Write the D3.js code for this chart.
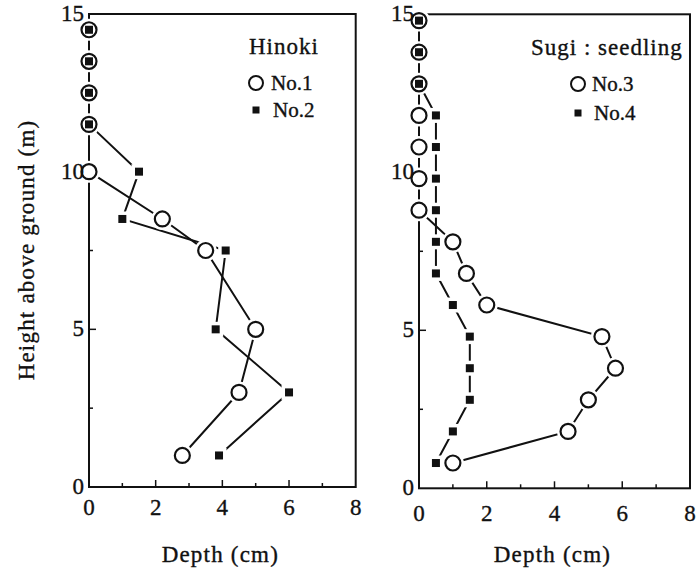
<!DOCTYPE html>
<html>
<head>
<meta charset="utf-8">
<script src="https://cdn.jsdelivr.net/npm/d3@7"></script>
<style>
  body { margin: 0; background: #fff; }
  svg { display: block; }
  text { stroke: #111; stroke-width: 0.35px; }
</style>
</head>
<body>
<div id="chart"></div>
<script>
// Hinoki (left panel)
const hinokiHeights = [14.5, 13.5, 12.5, 11.5, 10, 8.5, 7.5, 5, 3, 1];
const no1Depth = [0, 0, 0, 0, 0, 2.2, 3.5, 5, 4.5, 2.8];
const no2Depth = [0, 0, 0, 0, 1.5, 1, 4.1, 3.8, 6, 3.9];

// Sugi seedling (right panel)
const sugiHeights = [14.8, 13.8, 12.8, 11.8, 10.8, 9.8, 8.8, 7.8, 6.8, 5.8, 4.8, 3.8, 2.8, 1.8, 0.8];
const no3Depth = [0, 0, 0, 0, 0, 0, 0, 1, 1.4, 2, 5.4, 5.8, 5, 4.4, 1];
const no4Depth = [0, 0, 0, 0.5, 0.5, 0.5, 0.5, 0.5, 0.5, 1, 1.5, 1.5, 1.5, 1, 0.5];

const xTicks = [0, 2, 4, 6, 8];
const yTicks = [0, 5, 10, 15];

const serif = "'Liberation Serif', 'Times New Roman', Times, serif";

const svg = d3.select("#chart").append("svg")
  .attr("width", 700)
  .attr("height", 574)
  .attr("font-family", serif);

svg.append("rect").attr("width", 700).attr("height", 574).attr("fill", "#fff");

// y axis title, shared
svg.append("text")
  .attr("transform", "translate(34,250) rotate(-90)")
  .attr("text-anchor", "middle")
  .attr("font-family", serif)
  .attr("font-size", 23)
  .attr("letter-spacing", 1.2)
  .attr("fill", "#111")
  .text("Height above ground (m)");

const panels = [
  {
    left: 89, right: 355.7, top: 14, bottom: 487, labelDy: 28,
    heights: hinokiHeights, circle: no1Depth, square: no2Depth,
    title: "Hinoki", titleX: 249, titleY: 54,
    names: ["No.1", "No.2"], legX: 256, legTextX: 271, legY: [83, 110]
  },
  {
    left: 419, right: 690, top: 14.3, bottom: 488.3, labelDy: 33,
    heights: sugiHeights, circle: no3Depth, square: no4Depth,
    title: "Sugi : seedling", titleX: 531, titleY: 55,
    names: ["No.3", "No.4"], legX: 578, legTextX: 592, legY: [84, 113]
  }
];

panels.forEach(p => {
  const x = d3.scaleLinear().domain([0, 8]).range([p.left, p.right]);
  const y = d3.scaleLinear().domain([0, 15]).range([p.bottom, p.top]);
  const g = svg.append("g");

  // frame
  g.append("rect")
    .attr("x", p.left).attr("y", p.top)
    .attr("width", p.right - p.left).attr("height", p.bottom - p.top)
    .attr("fill", "none").attr("stroke", "#111").attr("stroke-width", 2);

  // inward ticks
  d3.range(1, 8).forEach(v => {
    g.append("line")
      .attr("x1", x(v)).attr("x2", x(v))
      .attr("y1", p.bottom).attr("y2", p.bottom - (v % 2 === 0 ? 7 : 4))
      .attr("stroke", "#111").attr("stroke-width", 1.5);
  });
  [2.5, 5, 7.5, 10, 12.5].forEach(v => {
    g.append("line")
      .attr("x1", p.left).attr("x2", p.left + (v % 5 === 0 ? 7 : 4))
      .attr("y1", y(v)).attr("y2", y(v))
      .attr("stroke", "#111").attr("stroke-width", 1.5);
  });

  const circ = p.heights.map((h, i) => [p.circle[i], h]);
  const sq = p.heights.map((h, i) => [p.square[i], h]);
  const line = d3.line().x(d => x(d[0])).y(d => y(d[1]));

  [circ, sq].forEach(pts => {
    g.append("path").datum(pts)
      .attr("d", line)
      .attr("fill", "none").attr("stroke", "#111").attr("stroke-width", 2);
  });

  // white halos so lines stop short of the markers
  g.selectAll(".ch").data(circ).enter().append("circle")
    .attr("cx", d => x(d[0])).attr("cy", d => y(d[1])).attr("r", 11)
    .attr("fill", "#fff");
  g.selectAll(".sh").data(sq).enter().append("rect")
    .attr("x", d => x(d[0]) - 7.5).attr("y", d => y(d[1]) - 7.5)
    .attr("width", 15).attr("height", 15)
    .attr("fill", "#fff");

  g.selectAll(".cm").data(circ).enter().append("circle")
    .attr("cx", d => x(d[0])).attr("cy", d => y(d[1])).attr("r", 7.5)
    .attr("fill", "#fff").attr("stroke", "#111").attr("stroke-width", 2.2);
  g.selectAll(".sm").data(sq).enter().append("rect")
    .attr("x", d => x(d[0]) - 4).attr("y", d => y(d[1]) - 4)
    .attr("width", 8).attr("height", 8)
    .attr("fill", "#111");

  // tick labels (on top of the markers)
  g.selectAll(".xl").data(xTicks).enter().append("text")
    .attr("x", d => x(d)).attr("y", p.bottom + p.labelDy)
    .attr("text-anchor", "middle")
    .attr("font-family", serif).attr("font-size", 23).attr("fill", "#111")
    .text(d => d);
  g.selectAll(".yl").data(yTicks).enter().append("text")
    .attr("x", p.left - 5).attr("y", d => y(d) + 7)
    .attr("text-anchor", "end")
    .attr("font-family", serif).attr("font-size", 23).attr("fill", "#111")
    .text(d => d);

  // x axis title
  g.append("text")
    .attr("x", (p.left + p.right) / 2 - 2).attr("y", 562)
    .attr("text-anchor", "middle")
    .attr("font-family", serif).attr("font-size", 23)
    .attr("letter-spacing", 1.2).attr("fill", "#111")
    .text("Depth (cm)");

  // legend
  g.append("text")
    .attr("x", p.titleX).attr("y", p.titleY)
    .attr("font-family", serif).attr("font-size", 23)
    .attr("letter-spacing", 1).attr("fill", "#111")
    .text(p.title);
  g.append("circle")
    .attr("cx", p.legX).attr("cy", p.legY[0]).attr("r", 7)
    .attr("fill", "#fff").attr("stroke", "#111").attr("stroke-width", 2);
  g.append("rect")
    .attr("x", p.legX - 3.5).attr("y", p.legY[1] - 3.5)
    .attr("width", 7).attr("height", 7).attr("fill", "#111");
  p.names.forEach((n, i) => {
    g.append("text")
      .attr("x", p.legTextX + (i === 1 ? 2 : 0)).attr("y", p.legY[i] + 7)
      .attr("font-family", serif).attr("font-size", 21).attr("fill", "#111")
      .text(n);
  });
});
</script>
</body>
</html>
